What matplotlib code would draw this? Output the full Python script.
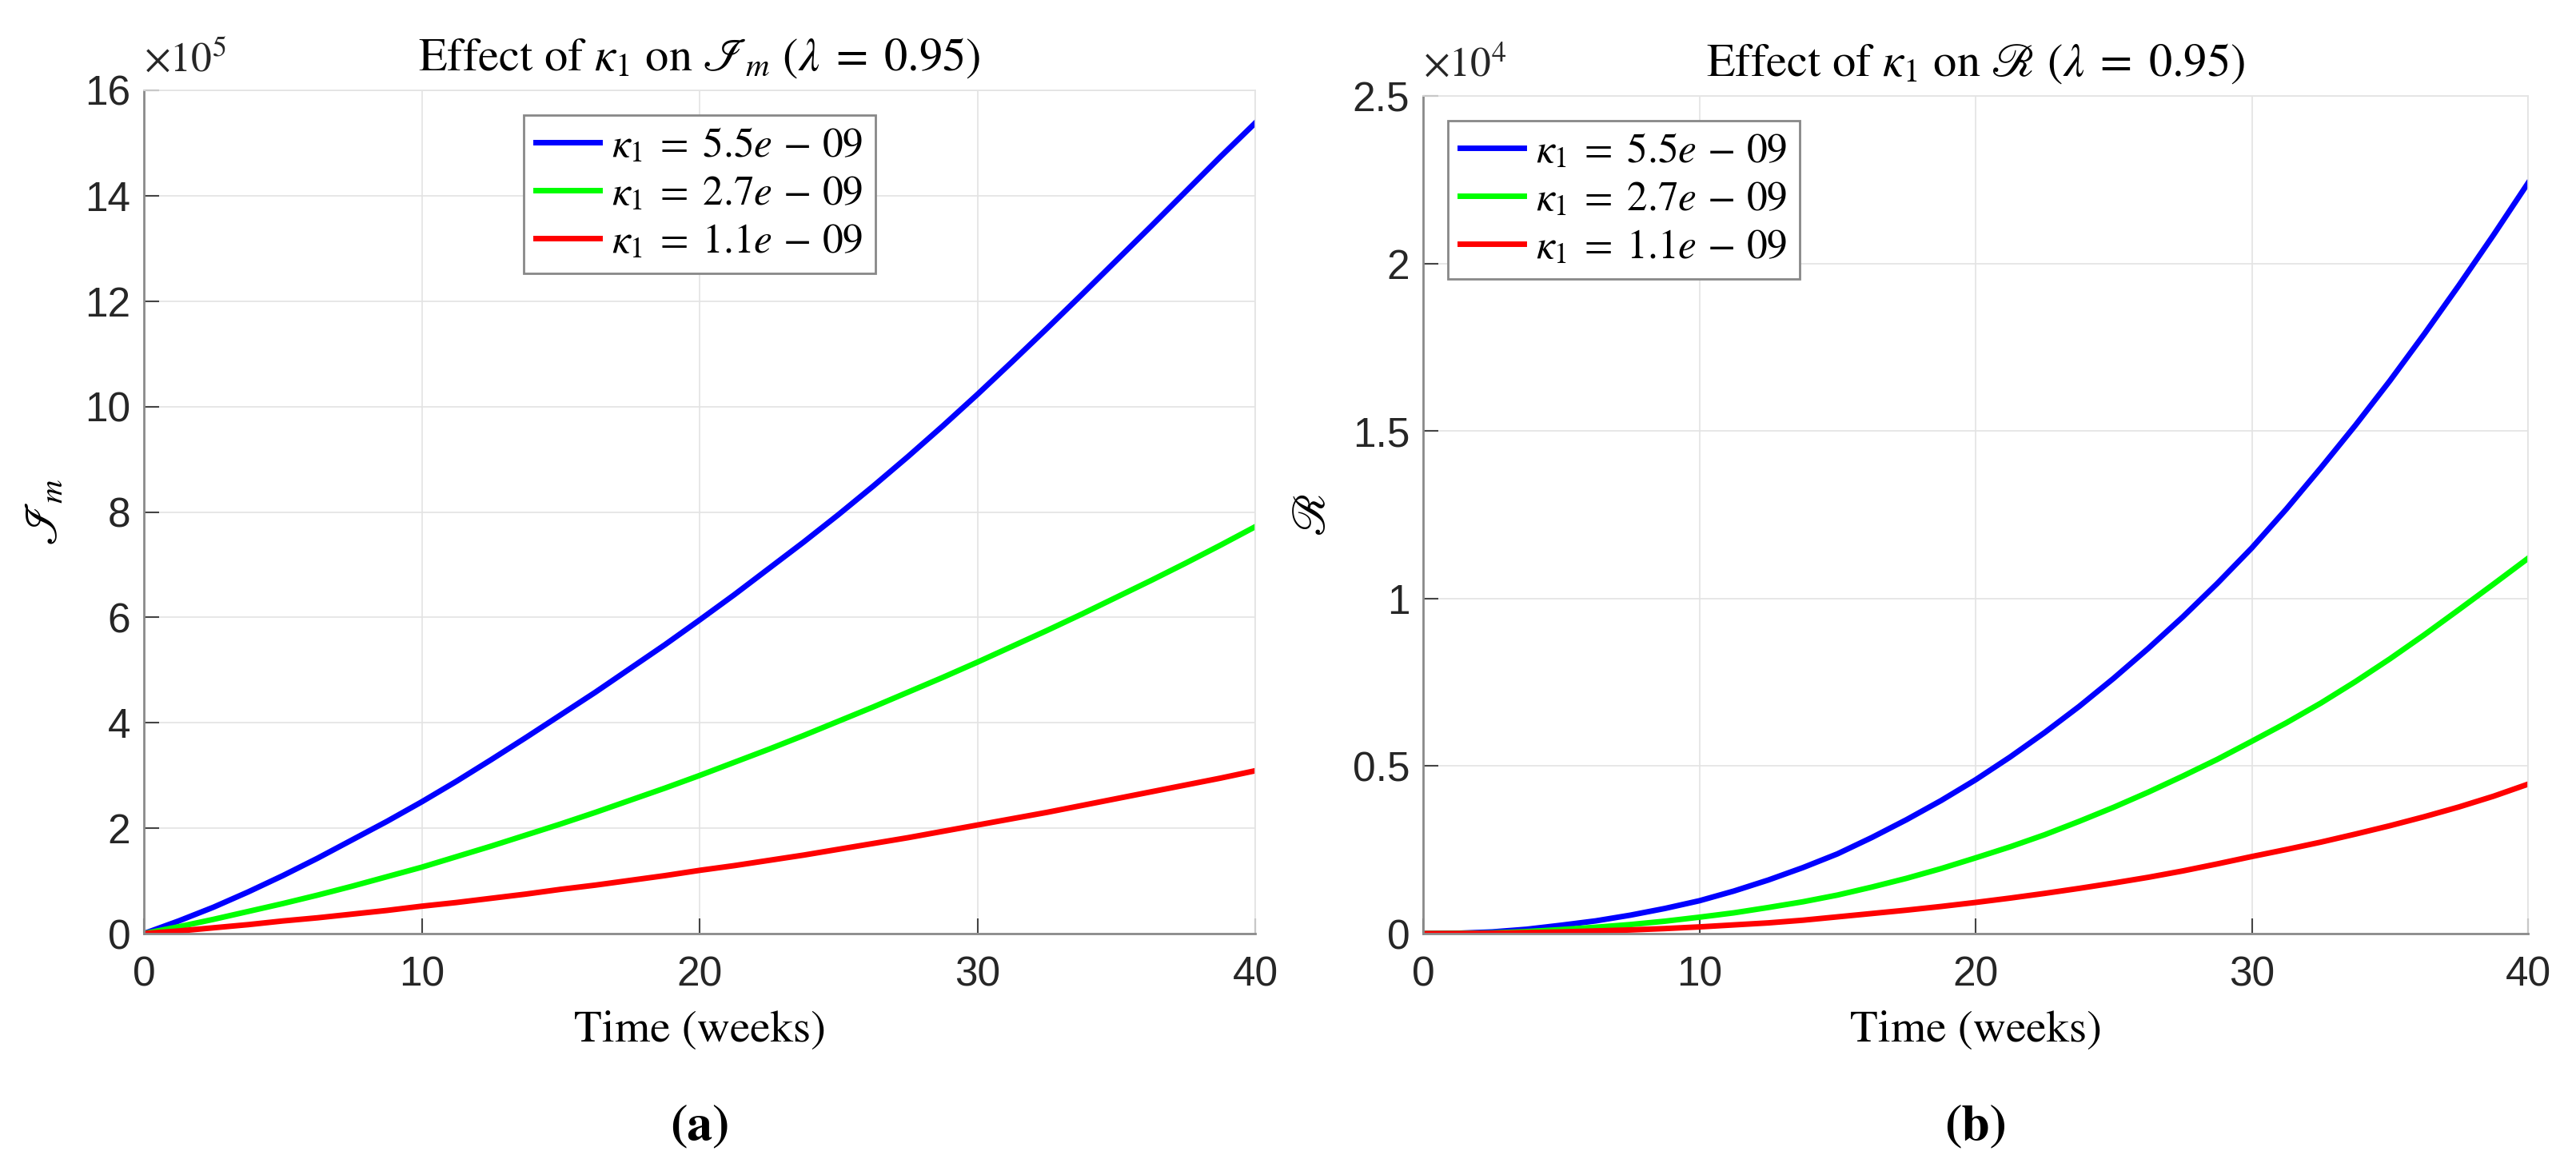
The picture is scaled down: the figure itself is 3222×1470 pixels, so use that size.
import matplotlib

matplotlib.use("Agg")
import matplotlib.pyplot as plt  # noqa: E402

plt.rcParams["mathtext.fontset"] = "stix"

# time grid (weeks)
weeks = [0, 1.25, 2.5, 3.75, 5, 6.25, 7.5, 8.75, 10, 11.25, 12.5, 13.75, 15, 16.25,
         17.5, 18.75, 20, 21.25, 22.5, 23.75, 25, 26.25, 27.5, 28.75, 30, 31.25,
         32.5, 33.75, 35, 36.25, 37.5, 38.75, 40]

# panel (a): I_m, in units of 1e5
im_k55 = [0, 0.24, 0.5, 0.79, 1.1, 1.43, 1.78, 2.13, 2.5, 2.89, 3.3, 3.72, 4.15,
          4.58, 5.03, 5.48, 5.95, 6.43, 6.93, 7.43, 7.95, 8.49, 9.05, 9.63, 10.23,
          10.85, 11.48, 12.12, 12.77, 13.42, 14.08, 14.74, 15.38]
im_k27 = [0, 0.13, 0.27, 0.42, 0.57, 0.73, 0.9, 1.08, 1.26, 1.46, 1.66, 1.87, 2.08,
          2.3, 2.53, 2.76, 3.0, 3.25, 3.5, 3.76, 4.03, 4.3, 4.58, 4.86, 5.15, 5.45,
          5.75, 6.06, 6.38, 6.7, 7.03, 7.37, 7.72]
im_k11 = [0, 0.05, 0.11, 0.17, 0.24, 0.3, 0.37, 0.44, 0.52, 0.59, 0.67, 0.75, 0.84,
          0.92, 1.01, 1.1, 1.2, 1.29, 1.39, 1.49, 1.6, 1.71, 1.82, 1.94, 2.06, 2.18,
          2.3, 2.43, 2.56, 2.69, 2.82, 2.95, 3.09]

# panel (b): R, in units of 1e4
r_k55 = [0, 0.001, 0.005, 0.013, 0.025, 0.038, 0.055, 0.075, 0.098, 0.127, 0.16,
         0.197, 0.238, 0.287, 0.34, 0.397, 0.459, 0.527, 0.6, 0.678, 0.762, 0.851,
         0.945, 1.045, 1.151, 1.267, 1.39, 1.517, 1.65, 1.79, 1.935, 2.085, 2.24]
r_k27 = [0, 0.0005, 0.002, 0.006, 0.012, 0.019, 0.027, 0.037, 0.049, 0.062, 0.078,
         0.095, 0.115, 0.139, 0.165, 0.194, 0.226, 0.259, 0.295, 0.335, 0.377,
         0.422, 0.47, 0.52, 0.574, 0.629, 0.688, 0.752, 0.82, 0.892, 0.967, 1.043, 1.12]
r_k11 = [0, 0.0002, 0.001, 0.003, 0.005, 0.008, 0.011, 0.015, 0.02, 0.026, 0.032,
         0.04, 0.05, 0.06, 0.07, 0.081, 0.093, 0.106, 0.12, 0.135, 0.151, 0.168,
         0.187, 0.208, 0.23, 0.251, 0.273, 0.297, 0.322, 0.349, 0.378, 0.41, 0.446]

labels = [r"$\kappa_1\;=\;5.5e\,-\,09$", r"$\kappa_1\;=\;2.7e\,-\,09$",
          r"$\kappa_1\;=\;1.1e\,-\,09$"]
colors = ["#0000ff", "#00ff00", "#ff0000"]

SERIF = "STIXGeneral"
SANS = "Liberation Sans"
W, H = 3222, 1470

fig = plt.figure(figsize=(W / 100, H / 100), dpi=100)


def px_rect(x0, y0, x1, y1):
    return [x0 / W, 1 - y1 / H, (x1 - x0) / W, (y1 - y0) / H]


def style(ax, ymax, ystep, yticklabels):
    ax.set_xlim(0, 40)
    ax.set_ylim(0, ymax)
    ax.set_xticks(range(0, 41, 10))
    n = round(ymax / ystep)
    ax.set_yticks([i * ystep for i in range(n + 1)])
    if yticklabels:
        ax.set_yticklabels(yticklabels)
    ax.grid(True, color="#e3e3e3", lw=1.2)
    ax.set_axisbelow(True)
    for s in ("top", "right"):
        ax.spines[s].set_color("#e3e3e3")
        ax.spines[s].set_linewidth(1.2)
    for s in ("left", "bottom"):
        ax.spines[s].set_color("#8a8a8a")
        ax.spines[s].set_linewidth(2)
    ax.tick_params(direction="in", length=14, width=1.5, color="#444444",
                   labelsize=37, labelcolor="#262626")
    ax.tick_params(axis="x", pad=20)
    ax.tick_params(axis="y", pad=12)
    for t in ax.get_xticklabels() + ax.get_yticklabels():
        t.set_fontfamily(SANS)
    ax.set_xlabel("Time (weeks)", fontfamily=SERIF, fontsize=41, labelpad=14)


panels = [
    (px_rect(180, 113, 1570, 1168), [im_k55, im_k27, im_k11], 16, 2, None,
     r"Effect of $\kappa_1$ on $\mathscr{I}_m$ ($\lambda\;=\;0.95$)",
     r"$\mathscr{I}_m$", r"$\times10^5$", "upper center", "(a)"),
    (px_rect(1780, 120, 3162, 1168), [r_k55, r_k27, r_k11], 2.5, 0.5,
     ["0", "0.5", "1", "1.5", "2", "2.5"],
     r"Effect of $\kappa_1$ on $\mathscr{R}$ ($\lambda\;=\;0.95$)",
     r"$\mathscr{R}$", r"$\times10^4$", "upper left", "(b)"),
]

for rect, series, ymax, ystep, yt, title, ylab, mult, loc, tag in panels:
    ax = fig.add_axes(rect)
    for ys, c, lab in zip(series, colors, labels):
        ax.plot(weeks, ys, color=c, lw=5, label=lab)
    style(ax, ymax, ystep, yt)
    ax.set_title(title, fontfamily=SERIF, fontsize=42, pad=18)
    ax.set_ylabel(ylab, fontfamily=SERIF, fontsize=42, labelpad=16)
    leg = ax.legend(loc=loc, prop={"family": SERIF, "size": 37},
                    handlelength=1.55, handletextpad=0.3, labelspacing=0.25,
                    borderaxespad=0.6, borderpad=0.3, fancybox=False,
                    framealpha=1)
    leg.get_frame().set_edgecolor("#888888")
    leg.get_frame().set_linewidth(2)
    x0 = rect[0]
    ytop = rect[1] + rect[3]
    fig.text(x0, ytop + 24 / H, mult, fontfamily=SANS, fontsize=37,
             color="#262626", ha="left", va="baseline")
    fig.text(x0 + rect[2] / 2, 1 - 1425 / H, tag, fontfamily=SERIF,
             fontsize=46, fontweight="bold", ha="center", va="baseline")

fig.savefig("out.png", dpi=100)
